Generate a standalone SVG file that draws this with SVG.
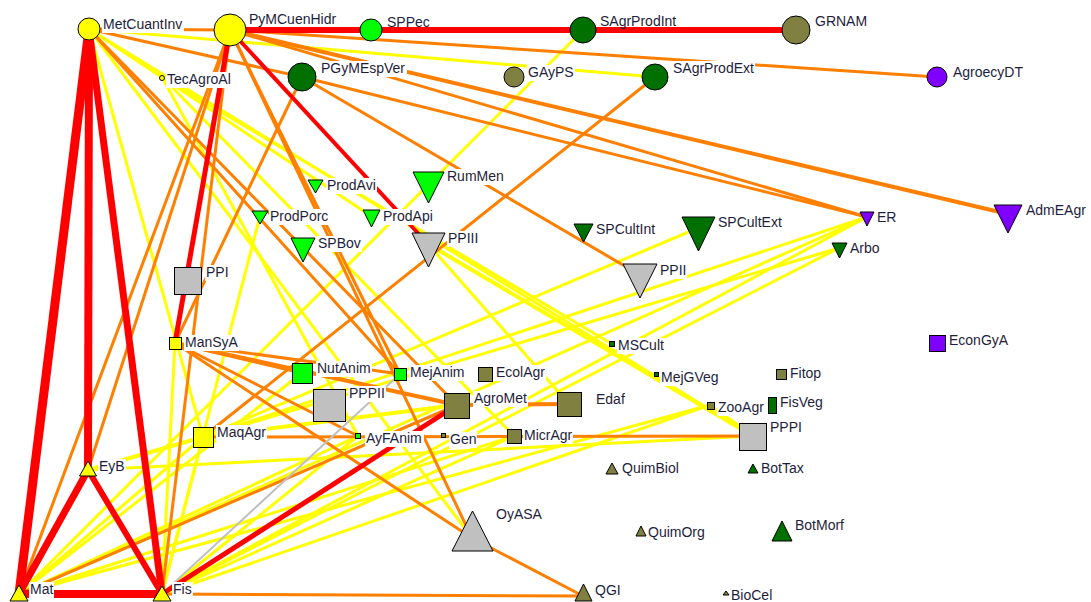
<svg xmlns="http://www.w3.org/2000/svg" width="1091" height="602" viewBox="0 0 1091 602">
<style>
.e line{fill:none;stroke-linecap:butt}
.y{stroke:#ffff00;stroke-width:3}
.o{stroke:#ff8000;stroke-width:3}
.g{stroke:#c0c0c0;stroke-width:2}
.r{stroke:#ff0000}
.n{stroke:#000;stroke-width:1}
.cy{fill:#ffff00}.cl{fill:#00ff00}.cd{fill:#007000}.co{fill:#808040}.cp{fill:#8000ff}.cg{fill:#c0c0c0}
.lb{fill:#fff}
text{font-family:"Liberation Sans",Arial,sans-serif;font-size:14px;fill:#1e1e3c}
</style>
<rect width="1091" height="602" fill="#fff"/>
<g id="connectors" class="e">
<line class="y" x1="89" y1="29" x2="203" y2="437"/>
<line class="y" x1="89" y1="29" x2="472" y2="538"/>
<line class="y" x1="89" y1="29" x2="655" y2="77"/>
<line class="y" x1="89" y1="29" x2="371" y2="216"/>
<line class="y" x1="89" y1="29" x2="753" y2="436"/>
<line class="y" x1="162" y1="77" x2="612" y2="344"/>
<line class="y" x1="162" y1="77" x2="514" y2="436"/>
<line class="y" x1="162" y1="77" x2="358" y2="436"/>
<line class="y" x1="583" y1="30" x2="19" y2="594"/>
<line class="y" x1="175" y1="343" x2="162" y2="594"/>
<line class="y" x1="88" y1="470" x2="203" y2="437" style="stroke-width:4"/>
<line class="y" x1="88" y1="470" x2="753" y2="436"/>
<line class="y" x1="428" y1="244" x2="753" y2="436" style="stroke-width:4"/>
<line class="y" x1="428" y1="244" x2="569" y2="404"/>
<line class="y" x1="203" y1="437" x2="698" y2="228"/>
<line class="y" x1="203" y1="437" x2="867" y2="217"/>
<line class="y" x1="203" y1="437" x2="839" y2="248"/>
<line class="y" x1="203" y1="437" x2="457" y2="405" style="stroke-width:4"/>
<line class="y" x1="19" y1="594" x2="710" y2="405"/>
<line class="y" x1="19" y1="594" x2="867" y2="217"/>
<line class="y" x1="19" y1="594" x2="203" y2="437"/>
<line class="y" x1="19" y1="594" x2="358" y2="436"/>
<line class="y" x1="19" y1="594" x2="514" y2="436"/>
<line class="y" x1="19" y1="594" x2="302" y2="373"/>
<line class="y" x1="162" y1="594" x2="867" y2="217"/>
<line class="y" x1="162" y1="594" x2="839" y2="248"/>
<line class="y" x1="162" y1="594" x2="358" y2="436"/>
<line class="y" x1="162" y1="594" x2="203" y2="437"/>
<line class="y" x1="162" y1="594" x2="260" y2="216"/>
<line class="y" x1="162" y1="594" x2="514" y2="436"/>
<line class="y" x1="162" y1="594" x2="710" y2="405"/>
<line class="y" x1="710" y1="405" x2="753" y2="436"/>
<line class="o" x1="89" y1="29" x2="230" y2="30"/>
<line class="o" x1="89" y1="29" x2="302" y2="77"/>
<line class="o" x1="89" y1="29" x2="457" y2="405"/>
<line class="o" x1="89" y1="29" x2="400" y2="374"/>
<line class="o" x1="230" y1="30" x2="937" y2="77"/>
<line class="o" x1="230" y1="30" x2="1008" y2="214" style="stroke-width:4"/>
<line class="o" x1="230" y1="30" x2="867" y2="217"/>
<line class="o" x1="230" y1="30" x2="19" y2="594"/>
<line class="o" x1="230" y1="30" x2="88" y2="470"/>
<line class="o" x1="230" y1="30" x2="162" y2="594"/>
<line class="o" x1="230" y1="30" x2="472" y2="538"/>
<line class="o" x1="230" y1="30" x2="400" y2="374"/>
<line class="o" x1="302" y1="77" x2="867" y2="217"/>
<line class="o" x1="302" y1="77" x2="640" y2="275"/>
<line class="o" x1="302" y1="77" x2="175" y2="343"/>
<line class="o" x1="655" y1="77" x2="203" y2="437"/>
<line class="o" x1="175" y1="343" x2="472" y2="538"/>
<line class="o" x1="175" y1="343" x2="457" y2="405" style="stroke-width:4"/>
<line class="o" x1="175" y1="343" x2="358" y2="436"/>
<line class="o" x1="175" y1="343" x2="302" y2="373"/>
<line class="o" x1="175" y1="343" x2="400" y2="374"/>
<line class="o" x1="472" y1="538" x2="583" y2="596"/>
<line class="o" x1="162" y1="594" x2="583" y2="596"/>
<line class="o" x1="203" y1="437" x2="753" y2="436"/>
<line class="o" x1="457" y1="405" x2="569" y2="404" style="stroke-width:4"/>
<line class="o" x1="19" y1="594" x2="457" y2="405"/>
<line class="g" x1="162" y1="594" x2="400" y2="374"/>
<line class="r" x1="89" y1="29" x2="19" y2="594" style="stroke-width:9"/>
<line class="r" x1="89" y1="29" x2="88" y2="470" style="stroke-width:8"/>
<line class="r" x1="89" y1="29" x2="162" y2="594" style="stroke-width:7"/>
<line class="r" x1="19" y1="594" x2="88" y2="470" style="stroke-width:7"/>
<line class="r" x1="88" y1="470" x2="162" y2="594" style="stroke-width:6"/>
<line class="r" x1="19" y1="594" x2="162" y2="594" style="stroke-width:8"/>
<line class="r" x1="230" y1="30" x2="796" y2="30" style="stroke-width:6"/>
<line class="r" x1="230" y1="30" x2="175" y2="343" style="stroke-width:5"/>
<line class="r" x1="230" y1="30" x2="428" y2="244" style="stroke-width:4"/>
<line class="r" x1="162" y1="594" x2="457" y2="405" style="stroke-width:5"/>
</g>
<g id="n-MetCuantInv"><circle class="n cy" cx="89" cy="29" r="11"/><rect class="lb" x="102" y="17" width="82" height="16"/><text x="103" y="29">MetCuantInv</text></g>
<g id="n-PyMCuenHidr"><circle class="n cy" cx="230" cy="30" r="16"/><rect class="lb" x="248" y="12" width="89" height="15"/><text x="249" y="24">PyMCuenHidr</text></g>
<g id="n-SPPec"><circle class="n cl" cx="371" cy="30" r="11"/><rect class="lb" x="386" y="15" width="45" height="11"/><text x="387" y="27">SPPec</text></g>
<g id="n-SAgrProdInt"><circle class="n cd" cx="583" cy="30" r="13"/><rect class="lb" x="599" y="14" width="78" height="12"/><text x="600" y="26">SAgrProdInt</text></g>
<g id="n-GRNAM"><circle class="n co" cx="796" cy="30" r="14"/><rect class="lb" x="814" y="14" width="54" height="16"/><text x="815" y="26">GRNAM</text></g>
<g id="n-TecAgroAl"><circle class="n cy" cx="162" cy="78" r="2.5"/><rect class="lb" x="166" y="72" width="67" height="16"/><text x="167" y="84">TecAgroAl</text></g>
<g id="n-PGyMEspVer"><circle class="n cd" cx="302" cy="77" r="14"/><rect class="lb" x="320" y="61" width="87" height="16"/><text x="321" y="73">PGyMEspVer</text></g>
<g id="n-GAyPS"><circle class="n co" cx="514" cy="77" r="10"/><rect class="lb" x="527" y="65" width="48" height="16"/><text x="528" y="77">GAyPS</text></g>
<g id="n-SAgrProdExt"><circle class="n cd" cx="655" cy="77" r="13"/><rect class="lb" x="672" y="61" width="83" height="16"/><text x="673" y="73">SAgrProdExt</text></g>
<g id="n-AgroecyDT"><circle class="n cp" cx="937" cy="77" r="10"/><rect class="lb" x="952" y="65" width="72" height="16"/><text x="953" y="77">AgroecyDT</text></g>
<g id="n-RumMen"><polygon class="n cl" points="413,172 444,172 428.5,203"/><rect class="lb" x="446" y="169" width="59" height="16"/><text x="447" y="181">RumMen</text></g>
<g id="n-ProdAvi"><polygon class="n cl" points="308,180 323,180 315.5,193"/><rect class="lb" x="326" y="178" width="51" height="16"/><text x="327" y="190">ProdAvi</text></g>
<g id="n-ProdPorc"><polygon class="n cl" points="252,211 268,211 260,224"/><rect class="lb" x="269" y="209" width="60" height="16"/><text x="270" y="221">ProdPorc</text></g>
<g id="n-ProdApi"><polygon class="n cl" points="363,210 380,210 371.5,227"/><rect class="lb" x="382" y="209" width="52" height="16"/><text x="383" y="221">ProdApi</text></g>
<g id="n-SPBov"><polygon class="n cl" points="291,238 315,238 303,262"/><rect class="lb" x="317" y="236" width="45" height="16"/><text x="318" y="248">SPBov</text></g>
<g id="n-PPIII"><polygon class="n cg" points="412,233 445,233 428.5,267"/><rect class="lb" x="447" y="231" width="32" height="16"/><text x="448" y="243">PPIII</text></g>
<g id="n-SPCultInt"><polygon class="n cd" points="574,224 593,224 583.5,242"/><rect class="lb" x="595" y="222" width="61" height="16"/><text x="596" y="234">SPCultInt</text></g>
<g id="n-SPCultExt"><polygon class="n cd" points="682,217 715,217 698.5,251"/><rect class="lb" x="717" y="215" width="66" height="16"/><text x="718" y="227">SPCultExt</text></g>
<g id="n-PPII"><polygon class="n cg" points="623,264 657,264 640,298"/><rect class="lb" x="659" y="263" width="28" height="16"/><text x="660" y="275">PPII</text></g>
<g id="n-ER"><polygon class="n cp" points="860,212 874,212 867,226"/><rect class="lb" x="876" y="210" width="21" height="16"/><text x="877" y="222">ER</text></g>
<g id="n-Arbo"><polygon class="n cd" points="832,243 847,243 839.5,258"/><rect class="lb" x="849" y="241" width="32" height="16"/><text x="850" y="253">Arbo</text></g>
<g id="n-AdmEAgr"><polygon class="n cp" points="994,205 1022,205 1008,233"/><rect class="lb" x="1025" y="203" width="62" height="16"/><text x="1026" y="215">AdmEAgr</text></g>
<g id="n-PPI"><rect class="n cg" x="174.5" y="267.5" width="27" height="27"/><rect class="lb" x="205" y="265" width="25" height="16"/><text x="206" y="277">PPI</text></g>
<g id="n-ManSyA"><rect class="n cy" x="169.5" y="337.5" width="12" height="12"/><rect class="lb" x="184" y="335" width="55" height="16"/><text x="185" y="347">ManSyA</text></g>
<g id="n-NutAnim"><rect class="n cl" x="292.5" y="363.5" width="20" height="20"/><rect class="lb" x="316" y="361" width="56" height="16"/><text x="317" y="373">NutAnim</text></g>
<g id="n-MejAnim"><rect class="n cl" x="394.5" y="368.5" width="12" height="12"/><rect class="lb" x="409" y="365" width="56" height="16"/><text x="410" y="377">MejAnim</text></g>
<g id="n-EcolAgr"><rect class="n co" x="478.5" y="367.5" width="14" height="14"/><rect class="lb" x="495" y="365" width="51" height="16"/><text x="496" y="377">EcolAgr</text></g>
<g id="n-PPPII"><rect class="n cg" x="313.5" y="389.5" width="32" height="32"/><rect class="lb" x="348" y="386" width="38" height="16"/><text x="349" y="398">PPPII</text></g>
<g id="n-AgroMet"><rect class="n co" x="444.5" y="393.5" width="25" height="25"/><rect class="lb" x="473" y="391" width="55" height="16"/><text x="474" y="403">AgroMet</text></g>
<g id="n-Edaf"><rect class="n co" x="557.5" y="392.5" width="24" height="24"/><rect class="lb" x="595" y="392" width="31" height="16"/><text x="596" y="404">Edaf</text></g>
<g id="n-MSCult"><rect class="n cd" x="609.5" y="341.5" width="5" height="5"/><rect class="lb" x="617" y="338" width="48" height="16"/><text x="618" y="350">MSCult</text></g>
<g id="n-MejGVeg"><rect class="n cd" x="654.5" y="372.5" width="4" height="4"/><rect class="lb" x="660" y="370" width="60" height="16"/><text x="661" y="382">MejGVeg</text></g>
<g id="n-Fitop"><rect class="n co" x="776.5" y="369.5" width="10" height="10"/><rect class="lb" x="789" y="366" width="33" height="16"/><text x="790" y="378">Fitop</text></g>
<g id="n-FisVeg"><rect class="n cd" x="768.5" y="397.5" width="8" height="16"/><rect class="lb" x="779" y="395" width="46" height="16"/><text x="780" y="407">FisVeg</text></g>
<g id="n-ZooAgr"><rect class="n co" x="707.5" y="402.5" width="7" height="7"/><rect class="lb" x="717" y="400" width="48" height="16"/><text x="718" y="412">ZooAgr</text></g>
<g id="n-PPPI"><rect class="n cg" x="739.5" y="423.5" width="27" height="27"/><rect class="lb" x="769" y="420" width="34" height="16"/><text x="770" y="432">PPPI</text></g>
<g id="n-MaqAgr"><rect class="n cy" x="193.5" y="427.5" width="20" height="20"/><rect class="lb" x="216" y="425" width="51" height="16"/><text x="217" y="437">MaqAgr</text></g>
<g id="n-AyFAnim"><rect class="n cl" x="355.5" y="433.5" width="5" height="5"/><rect class="lb" x="365" y="431" width="59" height="16"/><text x="366" y="443">AyFAnim</text></g>
<g id="n-Gen"><rect class="n co" x="441.5" y="433.5" width="4" height="4"/><rect class="lb" x="449" y="432" width="28" height="16"/><text x="450" y="444">Gen</text></g>
<g id="n-MicrAgr"><rect class="n co" x="507.5" y="429.5" width="14" height="14"/><rect class="lb" x="523" y="428" width="50" height="16"/><text x="524" y="440">MicrAgr</text></g>
<g id="n-EconGyA"><rect class="n cp" x="929.5" y="335.5" width="16" height="16"/><rect class="lb" x="948" y="333" width="61" height="16"/><text x="949" y="345">EconGyA</text></g>
<g id="n-EyB"><polygon class="n cy" points="88,461 96.5,476 79.5,476"/><rect class="lb" x="98" y="459" width="28" height="16"/><text x="99" y="471">EyB</text></g>
<g id="n-Mat"><polygon class="n cy" points="19,585 28,601 10,601"/><rect class="lb" x="29" y="582" width="25" height="16"/><text x="30" y="594">Mat</text></g>
<g id="n-Fis"><polygon class="n cy" points="162,586 171,601 153,601"/><rect class="lb" x="172" y="582" width="21" height="16"/><text x="173" y="594">Fis</text></g>
<g id="n-OyASA"><polygon class="n cg" points="472.5,511 493,551 452,551"/><rect class="lb" x="495" y="507" width="48" height="16"/><text x="496" y="519">OyASA</text></g>
<g id="n-QGI"><polygon class="n co" points="583.5,584 592,601 575,601"/><rect class="lb" x="594" y="583" width="28" height="16"/><text x="595" y="595">QGI</text></g>
<g id="n-QuimBiol"><polygon class="n co" points="612,463 618,474 606,474"/><text x="622" y="473">QuimBiol</text></g>
<g id="n-BotTax"><polygon class="n cd" points="753,464 758,473 748,473"/><text x="761" y="473">BotTax</text></g>
<g id="n-QuimOrg"><polygon class="n co" points="641,526 646,536 636,536"/><text x="648" y="537">QuimOrg</text></g>
<g id="n-BotMorf"><polygon class="n cd" points="782,521 792,541 772,541"/><text x="795" y="530">BotMorf</text></g>
<g id="n-BioCel"><polygon class="n co" points="726,591 729,595 723,595"/><text x="731" y="600">BioCel</text></g>
</svg>
